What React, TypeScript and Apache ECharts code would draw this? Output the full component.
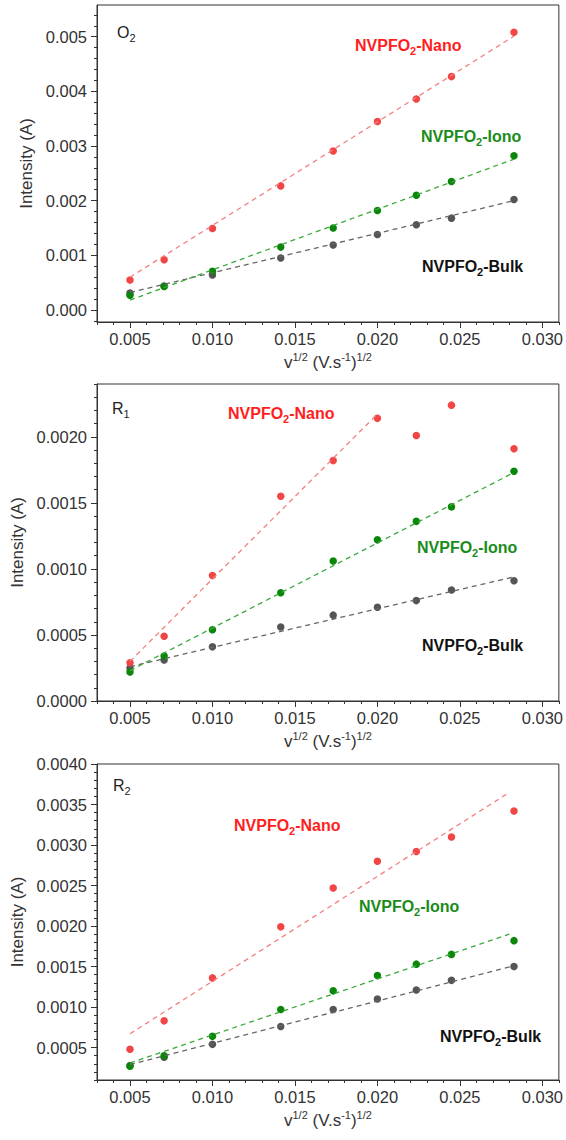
import React, { useEffect, useRef } from "react";
import * as echarts from "echarts";

// x = sqrt(scan rate)
const X = [0.005, 0.00707, 0.01, 0.01414, 0.01732, 0.02, 0.02236, 0.02449, 0.02828];

// Panel O2
const nanoO2 = [0.00055, 0.00092, 0.00149, 0.00227, 0.00291, 0.00345, 0.00386, 0.00427, 0.00508];
const ionoO2 = [0.00027, 0.00043, 0.00071, 0.00115, 0.0015, 0.00182, 0.0021, 0.00235, 0.00282];
const bulkO2 = [0.00031, 0.00044, 0.00064, 0.00095, 0.00119, 0.00138, 0.00156, 0.00168, 0.00202];
const fitNanoO2 = [[0.005, 0.0006], [0.02828, 0.00501]];
const fitIonoO2 = [[0.005, 0.00018], [0.02828, 0.00276]];
const fitBulkO2 = [[0.005, 0.00032], [0.02828, 0.002]];

// Panel R1
const nanoR1 = [0.00029, 0.00049, 0.00095, 0.00155, 0.00182, 0.00214, 0.00201, 0.00224, 0.00191];
const ionoR1 = [0.00022, 0.00034, 0.00054, 0.00082, 0.00106, 0.00122, 0.00136, 0.00147, 0.00174];
const bulkR1 = [0.00025, 0.00031, 0.00041, 0.00056, 0.00065, 0.00071, 0.00076, 0.00084, 0.00091];
const fitNanoR1 = [[0.005, 0.0003], [0.0199, 0.00216]];
const fitIonoR1 = [[0.005, 0.00023], [0.02828, 0.00173]];
const fitBulkR1 = [[0.005, 0.00026], [0.02828, 0.00094]];

// Panel R2
const nanoR2 = [0.00048, 0.00083, 0.00136, 0.00199, 0.00247, 0.0028, 0.00292, 0.0031, 0.00342];
const ionoR2 = [0.00027, 0.0004, 0.00064, 0.00097, 0.0012, 0.00139, 0.00153, 0.00165, 0.00182];
const bulkR2 = [0.00028, 0.00038, 0.00054, 0.00076, 0.00097, 0.0011, 0.00121, 0.00133, 0.0015];
const fitNanoR2 = [[0.005, 0.00067], [0.028, 0.00365]];
const fitIonoR2 = [[0.005, 0.00031], [0.028, 0.0019]];
const fitBulkR2 = [[0.005, 0.00029], [0.02828, 0.00151]];

// Tick labels
const xTicks = [0.005, 0.01, 0.015, 0.02, 0.025, 0.03];
const yTicksO2 = [0, 0.001, 0.002, 0.003, 0.004, 0.005];
const yTicksR1 = [0, 0.0005, 0.001, 0.0015, 0.002];
const yTicksR2 = [0.0005, 0.001, 0.0015, 0.002, 0.0025, 0.003, 0.0035, 0.004];

const FONT = "Liberation Sans, Arial, sans-serif";
const AX = "#333";
const RED_PT = "#f24646";
const RED_LN = "#f28080";
const GRN_PT = "#0a870a";
const GRN_LN = "#3aaa3a";
const GRY_PT = "#555555";
const GRY_LN = "#666666";

function steps(a: number, b: number, s: number): number[] {
  const out: number[] = [];
  const n = Math.round((b - a) / s);
  for (let i = 0; i <= n; i++) out.push(Math.round((a + i * s) * 1e7) / 1e7);
  return out;
}

const panels = [
  {
    top: 5, height: 317, ymin: -0.00022, ymax: 0.00558, yTicks: yTicksO2, dec: 3,
    yMinor: steps(-0.0002, 0.0054, 0.0002),
    nano: nanoO2, iono: ionoO2, bulk: bulkO2,
    fits: [fitBulkO2, fitIonoO2, fitNanoO2],
  },
  {
    top: 384, height: 317, ymin: 0, ymax: 0.0024, yTicks: yTicksR1, dec: 4,
    yMinor: steps(0, 0.0024, 0.0001),
    nano: nanoR1, iono: ionoR1, bulk: bulkR1,
    fits: [fitBulkR1, fitIonoR1, fitNanoR1],
  },
  {
    top: 764, height: 316, ymin: 0.0001, ymax: 0.004, yTicks: yTicksR2, dec: 4,
    yMinor: steps(0.0001, 0.004, 0.0001),
    nano: nanoR2, iono: ionoR2, bulk: bulkR2,
    fits: [fitBulkR2, fitIonoR2, fitNanoR2],
  },
];

const xMinor = steps(0.003, 0.031, 0.001);

function subLabel(x: number, y: number, head: string, sub: string, tail: string, color: string, bold: boolean) {
  const w = bold ? "bold" : "normal";
  return {
    type: "text",
    x,
    y,
    z: 100,
    style: {
      text: `{m|${head}}{s|${sub}}` + (tail ? `{m|${tail}}` : ""),
      fill: color,
      align: "left",
      verticalAlign: "middle",
      rich: {
        m: { fontSize: 16, fontWeight: w, fontFamily: FONT, lineHeight: 22, fill: color },
        s: { fontSize: 11, fontWeight: w, fontFamily: FONT, lineHeight: 11, verticalAlign: "bottom", fill: color },
      },
    },
  };
}

export default function App() {
  const ref = useRef<HTMLDivElement>(null);
  useEffect(() => {
    if (!ref.current) return;
    const chart = echarts.init(ref.current, undefined, { renderer: "svg" });
    const grid: any[] = [];
    const xAxis: any[] = [];
    const yAxis: any[] = [];
    const series: any[] = [];
    panels.forEach((p, i) => {
      grid.push({
        left: 97, width: 463, top: p.top, height: p.height,
        show: true, borderColor: AX, borderWidth: 1, backgroundColor: "transparent",
      });
      xAxis.push({
        type: "value", gridIndex: i, min: 0.003, max: 0.031, position: "bottom",
        axisLine: { onZero: false, lineStyle: { color: AX, width: 1 } },
        axisTick: { customValues: xTicks, length: 6, lineStyle: { color: AX } },
        axisLabel: {
          customValues: xTicks, formatter: (v: number) => v.toFixed(3),
          fontSize: 16.5, color: AX, fontFamily: FONT, margin: 8,
        },
        splitLine: { show: false },
        name: "v{s|1/2} (V.s{s|-1}){s|1/2}",
        nameLocation: "middle",
        nameGap: 29,
        nameTextStyle: {
          fontSize: 17, color: AX, fontFamily: FONT, lineHeight: 22,
          rich: { s: { fontSize: 11, color: AX, fontFamily: FONT, lineHeight: 11, verticalAlign: "top" } },
        },
      });
      xAxis.push({
        type: "value", gridIndex: i, min: 0.003, max: 0.031, position: "bottom",
        axisLine: { show: false, onZero: false },
        axisTick: { customValues: xMinor, length: 3, lineStyle: { color: AX } },
        axisLabel: { show: false },
        splitLine: { show: false },
      });
      yAxis.push({
        type: "value", gridIndex: i, min: p.ymin, max: p.ymax, position: "left",
        axisLine: { onZero: false, lineStyle: { color: AX, width: 1 } },
        axisTick: { customValues: p.yTicks, length: 6, lineStyle: { color: AX } },
        axisLabel: {
          customValues: p.yTicks, formatter: (v: number) => v.toFixed(p.dec),
          fontSize: 16.5, color: AX, fontFamily: FONT, margin: 10,
        },
        splitLine: { show: false },
        name: "Intensity (A)",
        nameLocation: "middle",
        nameGap: 61,
        nameTextStyle: { fontSize: 17, color: AX, fontFamily: FONT },
      });
      yAxis.push({
        type: "value", gridIndex: i, min: p.ymin, max: p.ymax, position: "left",
        axisLine: { show: false, onZero: false },
        axisTick: { customValues: p.yMinor, length: 3, lineStyle: { color: AX } },
        axisLabel: { show: false },
        splitLine: { show: false },
      });
      const xi = 2 * i;
      const groups = [
        { d: p.bulk, c: GRY_PT },
        { d: p.iono, c: GRN_PT },
        { d: p.nano, c: RED_PT },
      ];
      groups.forEach((g) => {
        series.push({
          type: "scatter", xAxisIndex: xi, yAxisIndex: xi,
          data: X.map((x, k) => [x, g.d[k]]),
          symbol: "circle", symbolSize: 7.5,
          itemStyle: { color: g.c, opacity: 1 },
          z: 2,
        });
      });
      const lineCols = [GRY_LN, GRN_LN, RED_LN];
      p.fits.forEach((f, k) => {
        series.push({
          type: "line", xAxisIndex: xi, yAxisIndex: xi,
          data: f, symbol: "none",
          lineStyle: { color: lineCols[k], width: 1.3, type: [5, 4] },
          z: 3,
        });
      });
    });

    const graphic = [
      subLabel(117, 32, "O", "2", "", "#222", false),
      subLabel(355, 45, "NVPFO", "2", "-Nano", "#ff1e1e", true),
      subLabel(421, 136, "NVPFO", "2", "-Iono", "#1a8c1a", true),
      subLabel(422, 266, "NVPFO", "2", "-Bulk", "#111", true),

      subLabel(112, 408, "R", "1", "", "#222", false),
      subLabel(228, 413, "NVPFO", "2", "-Nano", "#ff1e1e", true),
      subLabel(417, 547, "NVPFO", "2", "-Iono", "#1a8c1a", true),
      subLabel(422, 645, "NVPFO", "2", "-Bulk", "#111", true),

      subLabel(113, 785, "R", "2", "", "#222", false),
      subLabel(234, 825, "NVPFO", "2", "-Nano", "#ff1e1e", true),
      subLabel(359, 906, "NVPFO", "2", "-Iono", "#1a8c1a", true),
      subLabel(440, 1036, "NVPFO", "2", "-Bulk", "#111", true),
    ];

    chart.setOption({
      animation: false,
      backgroundColor: "#ffffff",
      grid,
      xAxis,
      yAxis,
      series,
      graphic,
    });
    return () => chart.dispose();
  }, []);
  return (
    <div
      ref={ref}
      style={{ position: "absolute", left: 0, top: 0, width: 566, height: 1140 }}
    />
  );
}
